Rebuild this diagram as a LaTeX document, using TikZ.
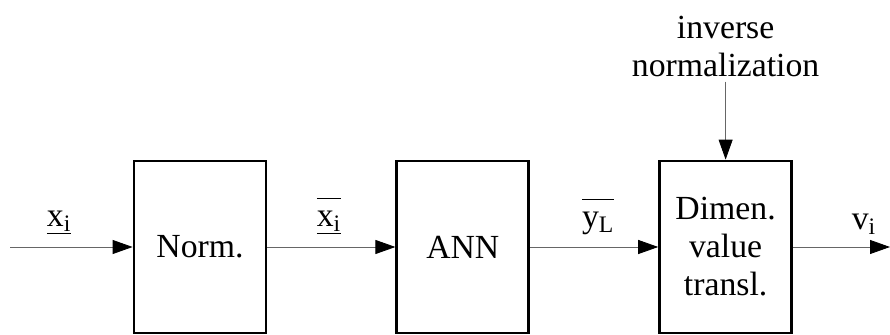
\documentclass[tikz,border=0pt]{standalone}
\usepackage{fontspec}
\setmainfont{Liberation Serif}
\usepackage{tikz}
\usetikzlibrary{arrows.meta,positioning}

\begin{document}
\begin{tikzpicture}[
  font=\fontsize{24}{27}\selectfont,
  box/.style={draw, line width=2pt, align=center, minimum height=4.3cm, minimum width=3.3cm, inner sep=2pt},
  arrow/.style={-{Triangle[length=5mm, width=3.5mm, color=black]}, draw=black!60, line width=0.6pt},
  lbl/.style={above, inner sep=0pt, yshift=0.3cm},
]
\useasboundingbox (0,0) rectangle (22.25,8.375);

\node[box] (norm) at (5,2.2) {Norm.};
\node[box, right=3.2cm of norm] (ann) {ANN};
\node[box, right=3.2cm of ann] (dimen) {Dimen.\\value\\transl.};

\coordinate (in) at (0.25,2.2);
\coordinate (out) at (22.25,2.2);
\node[align=center, above=1.95cm of dimen] (invnorm) {inverse\\normalization};

\draw[arrow] (in) -- node[lbl, pos=0.4] {$\underline{\hbox{x\textsubscript{i}}}$} (norm);
\draw[arrow] (norm) -- node[lbl, pos=0.48] {$\overline{\underline{\hbox{\rule{0pt}{0.78em}x\textsubscript{i}}}}$} (ann);
\draw[arrow] (ann) -- node[lbl, pos=0.53] {$\overline{\hbox{\rule{0pt}{0.78em}y\textsubscript{L}}}$} (dimen);
\draw[arrow] (dimen) -- node[lbl, pos=0.73] {v\textsubscript{i}} (out);
\draw[arrow] (invnorm) -- (dimen);
\end{tikzpicture}
\end{document}
